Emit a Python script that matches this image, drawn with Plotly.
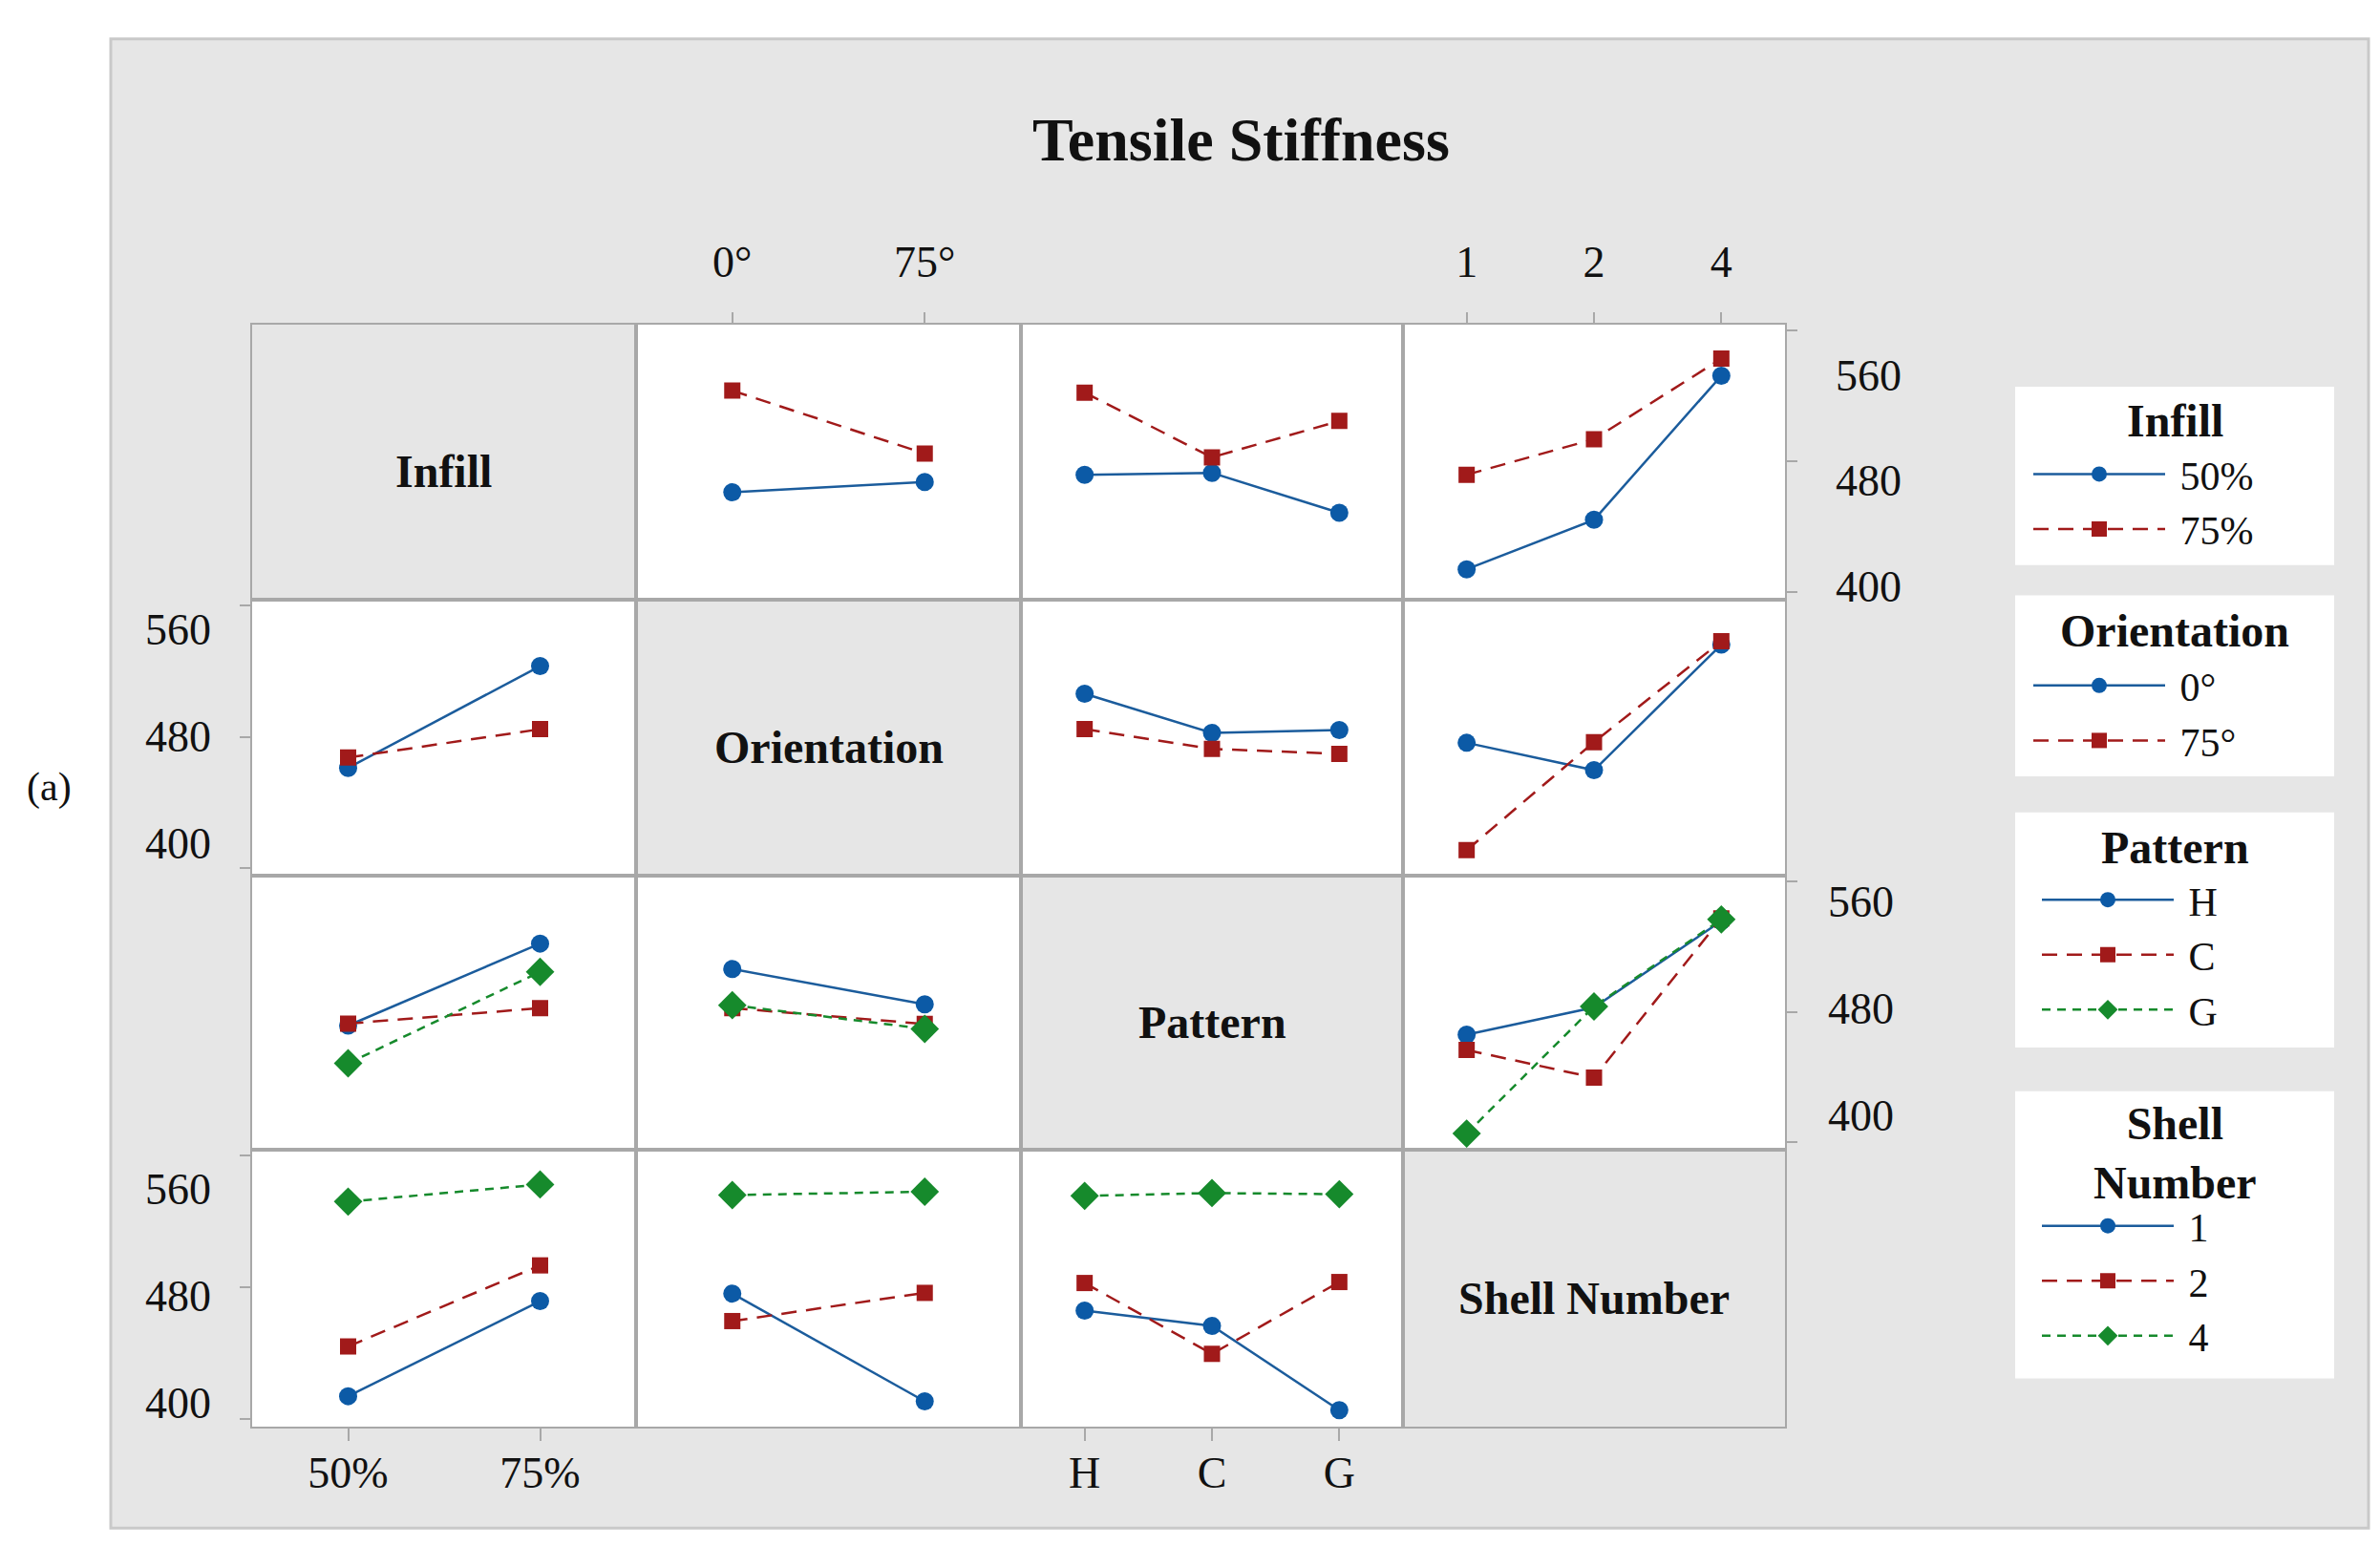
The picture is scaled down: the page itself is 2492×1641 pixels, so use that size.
import plotly.graph_objects as go

# ---------------- data ----------------
factors = ["Infill", "Orientation", "Pattern", "Shell Number"]
infill_levels = ["50%", "75%"]
orientation_levels = ["0°", "75°"]
pattern_levels = ["H", "C", "G"]
shell_levels = ["1", "2", "4"]
levels = [infill_levels, orientation_levels, pattern_levels, shell_levels]

# mean tensile stiffness for each pair of factor levels
# (rows = levels of the first factor, columns = levels of the second factor)
infill_orientation = [[461.0, 467.3], [523.0, 484.6]]
infill_pattern = [[471.6, 472.8, 448.5], [521.8, 482.3, 504.5]]
infill_shell = [[414.0, 444.2, 532.1], [471.7, 493.4, 542.5]]
orientation_pattern = [[506.2, 482.3, 484.1], [484.6, 472.6, 469.6]]
orientation_shell = [[476.3, 459.6, 536.1], [410.9, 476.7, 538.1]]
pattern_shell = [[466.0, 482.7, 535.6], [456.7, 439.7, 537.3], [405.5, 483.3, 536.6]]

y_ticks = [400, 480, 560]
y_tick_labels = ["400", "480", "560"]

pairs = {
    (0, 1): infill_orientation,
    (0, 2): infill_pattern,
    (0, 3): infill_shell,
    (1, 2): orientation_pattern,
    (1, 3): orientation_shell,
    (2, 3): pattern_shell,
}

# ---------------- style / layout ----------------
W, H = 2492, 1641
FONT = "Liberation Serif"
TEXT = "#111111"
GRAY_BG = "#e6e6e6"
PANEL_LINE = "#a8a8a8"
col_edges = [256, 658, 1061, 1461, 1861]
row_edges = [334, 624.5, 915.5, 1205, 1497]
y_range = [395.5, 563.5]
NBSP = "\u00a0"

level_styles = [
    dict(color="#0c5aa6", line_color="#1b5c9c", symbol="circle", size=19, dash="solid"),
    dict(color="#a11a1a", line_color="#a11a1a", symbol="square", size=17, dash="16px,10px"),
    dict(color="#168a2c", line_color="#168a2c", symbol="diamond", size=23, dash="9px,7px"),
]
legend_names = ["legend", "legend2", "legend3", "legend4"]


def fx(px):
    return px / W


def fy(py):
    return 1 - py / H


def aid(k):
    return "" if k == 1 else str(k)


fig = go.Figure()

for r in range(4):
    for c in range(4):
        k = r * 4 + c + 1
        if r == c:
            # empty trace so the diagonal (label) panel is created
            fig.add_trace(go.Scatter(x=[], y=[], xaxis=f"x{aid(k)}", yaxis=f"y{aid(k)}",
                                     showlegend=False, hoverinfo="skip"))
            continue
        if r < c:
            M = pairs[(r, c)]
            series = [list(M[i]) for i in range(len(levels[r]))]
        else:
            M = pairs[(c, r)]
            series = [[M[j][i] for j in range(len(levels[c]))] for i in range(len(levels[r]))]
        show = (c == 1) if r == 0 else (c == 0)
        for i, yv in enumerate(series):
            st = level_styles[i]
            fig.add_trace(go.Scatter(
                x=levels[c], y=yv, mode="lines+markers",
                name=NBSP + levels[r][i],
                xaxis=f"x{aid(k)}", yaxis=f"y{aid(k)}",
                line=dict(color=st["line_color"], width=2.5, dash=st["dash"]),
                marker=dict(color=st["color"], symbol=st["symbol"], size=st["size"], line=dict(width=0)),
                legend=legend_names[r], showlegend=show,
                hoverinfo="skip",
            ))

layout = dict(
    width=W, height=H, autosize=False,
    margin=dict(l=0, r=0, t=0, b=0),
    paper_bgcolor="white", plot_bgcolor="rgba(0,0,0,0)",
    hovermode=False,
    font=dict(family=FONT, color=TEXT, size=44),
)

shapes = [dict(type="rect", xref="paper", yref="paper",
               x0=fx(108), x1=fx(2472), y0=fy(1604), y1=fy(33),
               fillcolor=GRAY_BG, line=dict(color="#c9c9c9", width=3), layer="below")]
annotations = []

for r in range(4):
    for c in range(4):
        k = r * 4 + c + 1
        n = len(levels[c])
        xa = dict(
            domain=[fx(col_edges[c]), fx(col_edges[c + 1])], anchor=f"y{aid(k)}",
            type="category", categoryorder="array", categoryarray=levels[c],
            range=[-0.5, n - 0.5], showgrid=False, zeroline=False,
            showline=True, mirror=True, linecolor=PANEL_LINE, linewidth=2,
            fixedrange=True, tickfont=dict(family=FONT, size=46, color=TEXT),
        )
        if r == 0 and c in (1, 3):
            xa.update(side="top", ticks="outside", ticklen=11, tickwidth=1.5, tickcolor=PANEL_LINE,
                      showticklabels=True, ticklabelstandoff=18)
        elif r == 3 and c in (0, 2):
            xa.update(side="bottom", ticks="outside", ticklen=13, tickwidth=1.5, tickcolor=PANEL_LINE,
                      showticklabels=True, ticklabelstandoff=-6)
        else:
            xa.update(ticks="", showticklabels=False)
        ya = dict(
            domain=[fy(row_edges[r + 1]), fy(row_edges[r])], anchor=f"x{aid(k)}",
            range=y_range, showgrid=False, zeroline=False,
            showline=True, mirror=True, linecolor=PANEL_LINE, linewidth=2,
            fixedrange=True, showticklabels=False, tickvals=y_ticks,
        )
        if c == 0 and r in (1, 3):
            ya.update(side="left", ticks="outside", ticklen=11, tickwidth=1.5, tickcolor=PANEL_LINE)
        elif c == 3 and r in (0, 2):
            ya.update(side="right", ticks="outside", ticklen=11, tickwidth=1.5, tickcolor=PANEL_LINE)
        else:
            ya.update(ticks="")
        layout[f"xaxis{aid(k)}"] = xa
        layout[f"yaxis{aid(k)}"] = ya
        shapes.append(dict(type="rect", xref=f"x{aid(k)} domain", yref=f"y{aid(k)} domain",
                           x0=0, x1=1, y0=0, y1=1, line=dict(width=0),
                           fillcolor=(GRAY_BG if r == c else "white"), layer="below"))
        if r == c:
            annotations.append(dict(xref=f"x{aid(k)} domain", yref=f"y{aid(k)} domain", x=0.5, y=0.5,
                                    yshift=-10, showarrow=False, text=factors[r],
                                    font=dict(family=FONT, size=48, color=TEXT, weight="bold")))

# tick-label axes (labels as placed in the original figure)
label_axes = [
    dict(row=0, k=4, side="right", rng=[390.0, 598.2], standoff=52),
    dict(row=1, k=5, side="left", rng=[375.8, 581.8], standoff=42),
    dict(row=2, k=12, side="right", rng=[374.3, 579.0], standoff=44),
    dict(row=3, k=13, side="left", rng=[382.3, 589.3], standoff=42),
]
for j, la in enumerate(label_axes):
    name = 17 + j
    layout[f"yaxis{name}"] = dict(
        overlaying=f"y{aid(la['k'])}", anchor=f"x{aid(la['k'])}", side=la["side"],
        range=la["rng"], tickvals=y_ticks, ticktext=y_tick_labels,
        ticks="", showline=False, showgrid=False, zeroline=False, fixedrange=True,
        ticklabelstandoff=la["standoff"], tickfont=dict(family=FONT, size=46, color=TEXT),
    )
    fig.add_trace(go.Scatter(x=[], y=[], xaxis=f"x{aid(la['k'])}", yaxis=f"y{name}",
                             showlegend=False, hoverinfo="skip"))

# legend boxes with centred titles
legend_boxes = [(400, 588), (620, 811), (849, 1097), (1143, 1446)]
box_x0, box_x1 = 2102, 2436
for (t, b) in legend_boxes:
    shapes.append(dict(type="rect", xref="paper", yref="paper", x0=fx(box_x0), x1=fx(box_x1),
                       y0=fy(b), y1=fy(t), fillcolor="white", line=dict(width=0), layer="below"))

legend_titles = ["Infill", "Orientation", "Pattern", "Shell<br>Number"]
legend_title_y = [436, 657, 886, 1208]
legend_tops = [458, 681, 907, 1251]
legend_left = [2116, 2116, 2125, 2125]
for j in range(4):
    layout[legend_names[j]] = dict(
        x=fx(legend_left[j]), y=fy(legend_tops[j]), xanchor="left", yanchor="top",
        bgcolor="rgba(0,0,0,0)", borderwidth=0, orientation="v",
        itemwidth=138, tracegroupgap=0, traceorder="normal",
        font=dict(family=FONT, size=42, color=TEXT),
        itemclick=False, itemdoubleclick=False,
    )
    annotations.append(dict(xref="paper", yref="paper", x=fx((box_x0 + box_x1) / 2),
                            y=fy(legend_title_y[j]), showarrow=False, text=legend_titles[j],
                            xanchor="center", yanchor="middle",
                            font=dict(family=FONT, size=48, color=TEXT, weight="bold")))

annotations.append(dict(xref="paper", yref="paper", x=fx(1291), y=fy(140), showarrow=False,
                        text="Tensile Stiffness", xanchor="center", yanchor="middle",
                        font=dict(family=FONT, size=64, color=TEXT, weight="bold")))
annotations.append(dict(xref="paper", yref="paper", x=fx(43), y=fy(823), showarrow=False,
                        text="(a)", xanchor="center", yanchor="middle",
                        font=dict(family=FONT, size=42, color=TEXT)))

layout["shapes"] = shapes
layout["annotations"] = annotations
fig.update_layout(**layout)

fig.write_html("out.html")
